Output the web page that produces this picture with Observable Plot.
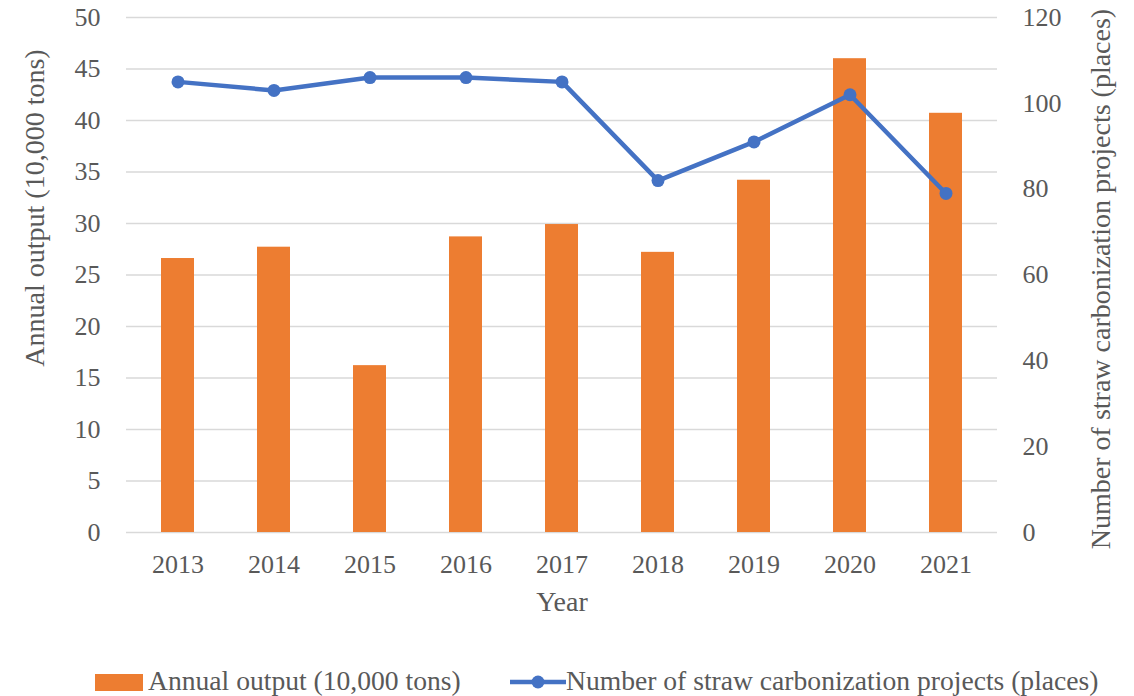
<!DOCTYPE html>
<html><head><meta charset="utf-8">
<script src="https://cdn.jsdelivr.net/npm/d3@7"></script>
<script src="https://cdn.jsdelivr.net/npm/@observablehq/plot@0.6"></script>
<style>
body{margin:0;background:#fff;font-family:"Liberation Serif","Times New Roman",serif;}
#wrap{position:relative;width:1134px;height:696px;overflow:hidden;}
#legend{position:absolute;left:0;top:664px;width:1134px;height:34px;font-size:27.6px;color:#595959;}
.item{position:absolute;top:0;height:34px;line-height:34px;white-space:nowrap;}
.item svg{position:absolute;top:0;}
</style></head><body>
<div id="wrap"><div id="chart"></div>
<div id="legend">
  <div class="item" style="left:95px;"><svg width="50" height="34"><rect x="0" y="10" width="48" height="17" fill="#ED7D31"/></svg><span style="position:absolute;left:53px;">Annual output (10,000 tons)</span></div>
  <div class="item" style="left:510px;"><svg width="56" height="34"><line x1="0" y1="18" x2="56" y2="18" stroke="#4472C4" stroke-width="4.5"/><circle cx="28" cy="18" r="6.5" fill="#4472C4"/></svg><span style="position:absolute;left:56px;">Number of straw carbonization projects (places)</span></div>
</div></div>
<script>
const years = ["2013","2014","2015","2016","2017","2018","2019","2020","2021"];
const output = [26.6, 27.7, 16.2, 28.7, 29.9, 27.2, 34.2, 46.0, 40.7];
const projects = [105, 103, 106, 106, 105, 82, 91, 102, 79];
const leftTicks = [0,5,10,15,20,25,30,35,40,45,50];
const rightTicks = [0,20,40,60,80,100,120];
const leftTitle = "Annual output (10,000 tons)";
const rightTitle = "Number of straw carbonization projects (places)";
const xTitle = "Year";

const RATIO = 50/120;
const data = years.map((y,i)=>({year:y, output:output[i], projects:projects[i]}));
const font = '"Liberation Serif","Times New Roman",serif';

const chart = Plot.plot({
  width:1134, height:650,
  marginTop:17, marginBottom:118, marginLeft:126, marginRight:137,
  style:{fontFamily:font, fontSize:"26px", color:"#595959", background:"#fff", overflow:"visible"},
  x:{domain:years, paddingInner:0.66, paddingOuter:0.33, axis:null},
  y:{domain:[0,50], axis:null},
  marks:[
    Plot.gridY(leftTicks, {stroke:"#d9d9d9", strokeOpacity:1, strokeWidth:1.5}),
    Plot.barY(data, {x:"year", y:"output", fill:"#ED7D31"}),
    Plot.line(data, {x:"year", y:d=>d.projects*RATIO, stroke:"#4472C4", strokeWidth:4.5}),
    Plot.dot(data, {x:"year", y:d=>d.projects*RATIO, fill:"#4472C4", r:6.5}),
    Plot.axisY(leftTicks, {anchor:"left", tickSize:0, tickPadding:26, label:null, fill:"#595959"}),
    Plot.axisY(rightTicks.map(v=>v*RATIO), {anchor:"right", tickSize:0, tickPadding:25, tickFormat:d=>String(Math.round(d/RATIO)), label:null, fill:"#595959"}),
    Plot.axisX({tickSize:0, tickPadding:22, label:null, fill:"#595959"}),
    Plot.text([xTitle], {frameAnchor:"bottom", dy:78, fontSize:28, fill:"#595959"}),
    Plot.text([leftTitle], {frameAnchor:"left", textAnchor:"middle", rotate:-90, dx:-91, dy:-67, fontSize:28, fill:"#595959"}),
    Plot.text([rightTitle], {frameAnchor:"right", textAnchor:"middle", rotate:-90, dx:104, dy:4, fontSize:28, fill:"#595959"})
  ]
});
document.getElementById("chart").appendChild(chart);
</script>
</body></html>
